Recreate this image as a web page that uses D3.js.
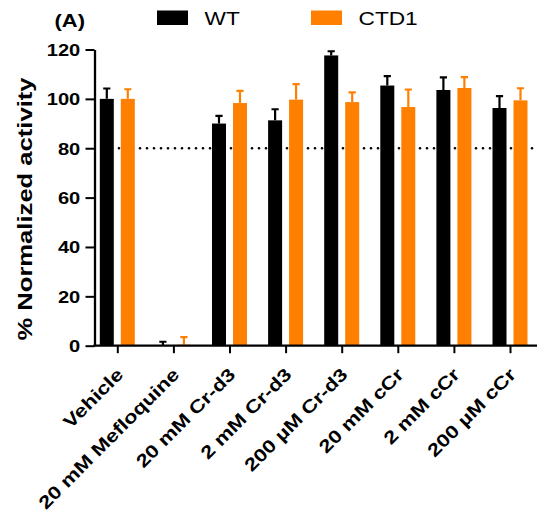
<!DOCTYPE html>
<html>
<head>
<meta charset="utf-8">
<script src="https://cdn.jsdelivr.net/npm/d3@7"></script>
<style>
  body { margin: 0; background: #fff; }
  svg { display: block; font-family: "Liberation Sans", Arial, sans-serif; }
</style>
</head>
<body>
<div id="chart"></div>
<script>
// categories and series values
const categories = ["Vehicle", "20 mM Mefloquine", "20 mM Cr-d3", "2 mM Cr-d3",
                    "200 \u00b5M Cr-d3", "20 mM cCr", "2 mM cCr", "200 \u00b5M cCr"];
const seriesNames = ["WT", "CTD1"];
const wtMean  = [100, 0.2, 90.0, 91.3, 117.6, 105.4, 103.6, 96.3];
const wtErr   = [4.2, 1.4, 3.1, 4.5, 1.7, 3.8, 5.1, 4.8];
const ctdMean = [100, 0.4, 98.3, 99.7, 98.7, 96.7, 104.4, 99.4];
const ctdErr  = [3.9, 3.1, 4.9, 6.3, 3.9, 7.1, 4.4, 4.9];
const yTicks = [0, 20, 40, 60, 80, 100, 120];
const threshold = 80;

const colors = { WT: "#000000", CTD1: "#ff8000" };
const stretch = 1.22; // glyphs in the figure are wider than plain Arial

const W = 537, H = 513;
const svg = d3.select("#chart").append("svg")
    .attr("width", W)
    .attr("height", H);

// Scales
const y = d3.scaleLinear().domain([0, 120]).range([345.7, 49.5]);
const x = d3.scalePoint().domain(categories).range([117.3, 510]);
const xSub = d3.scaleBand().domain(seriesNames).range([-17.5, 17.5]).paddingInner(1 / 3);

const rows = categories.map((c, i) => ({
    cat: c,
    values: [
        { key: "WT", mean: wtMean[i], err: wtErr[i] },
        { key: "CTD1", mean: ctdMean[i], err: ctdErr[i] }
    ]
}));

// Dotted reference line at 80%
svg.append("line")
    .attr("x1", 105)
    .attr("x2", W)
    .attr("y1", y(threshold))
    .attr("y2", y(threshold))
    .attr("stroke", "#000")
    .attr("stroke-width", 2.7)
    .attr("stroke-linecap", "round")
    .attr("stroke-dasharray", "0,7");

// Bars
const groups = svg.selectAll(".group")
    .data(rows)
    .enter().append("g")
    .attr("class", "group")
    .attr("transform", d => `translate(${x(d.cat)},0)`);

groups.selectAll(".err")
    .data(d => d.values)
    .enter().append("path")
    .attr("class", "err")
    .attr("d", d => {
        const cx = xSub(d.key) + xSub.bandwidth() / 2;
        const top = y(d.mean + d.err);
        return `M${cx},${y(d.mean)}V${top}M${cx - 3.6},${top}H${cx + 3.6}`;
    })
    .attr("fill", "none")
    .attr("stroke", d => colors[d.key])
    .attr("stroke-width", 2.2);

groups.selectAll(".bar")
    .data(d => d.values)
    .enter().append("rect")
    .attr("class", "bar")
    .attr("x", d => xSub(d.key))
    .attr("width", xSub.bandwidth())
    .attr("y", d => y(d.mean))
    .attr("height", d => y(0) - y(d.mean))
    .attr("fill", d => colors[d.key]);

// Y axis
const yAxis = svg.append("g")
    .attr("transform", "translate(94.5,0)")
    .call(d3.axisLeft(y).tickValues(yTicks).tickSize(9).tickSizeOuter(0));
yAxis.select(".domain").attr("stroke-width", 2.3);
yAxis.selectAll(".tick line").attr("stroke-width", 2);
yAxis.selectAll(".tick text")
    .attr("x", 0)
    .attr("dy", "0.36em")
    .attr("transform", `translate(-14.2,0) scale(${stretch},1)`)
    .style("font-family", "'Liberation Sans', Arial, sans-serif")
    .style("font-size", "16.5px")
    .style("font-weight", "bold")
    .attr("fill", "#000");

// X axis
svg.append("line")
    .attr("x1", 93.5)
    .attr("x2", W)
    .attr("y1", y(0))
    .attr("y2", y(0))
    .attr("stroke", "#000")
    .attr("stroke-width", 2.3);

const xAxis = svg.append("g")
    .attr("transform", `translate(0,${y(0)})`)
    .call(d3.axisBottom(x).tickSize(7.5).tickFormat(""));
xAxis.select(".domain").remove();
xAxis.selectAll(".tick line").attr("stroke-width", 2);

svg.selectAll(".x-label")
    .data(categories)
    .enter().append("text")
    .attr("class", "x-label")
    .attr("text-anchor", "end")
    .attr("transform", d => `translate(${x(d) + 7},${y(0) + 30}) rotate(-45) scale(${stretch},1)`)
    .style("font-size", "18px")
    .style("font-weight", "bold")
    .text(d => d);

// Y axis title
svg.append("text")
    .attr("text-anchor", "middle")
    .attr("transform", `translate(32,209) rotate(-90) scale(${stretch},1)`)
    .style("font-size", "21px")
    .style("font-weight", "bold")
    .text("% Normalized activity");

// Panel label
svg.append("text")
    .attr("transform", `translate(54.5,26.5) scale(${stretch},1)`)
    .style("font-size", "18px")
    .style("font-weight", "bold")
    .text("(A)");

// Legend
const legendX = [157, 311];
const legend = svg.selectAll(".legend")
    .data(seriesNames)
    .enter().append("g")
    .attr("class", "legend")
    .attr("transform", (d, i) => `translate(${legendX[i]},0)`);

legend.append("rect")
    .attr("x", 0)
    .attr("y", 10.5)
    .attr("width", 31)
    .attr("height", 14.5)
    .attr("fill", d => colors[d]);

legend.append("text")
    .attr("transform", `translate(47.5,25) scale(${stretch},1)`)
    .style("font-size", "18.6px")
    .text(d => d);
</script>
</body>
</html>
